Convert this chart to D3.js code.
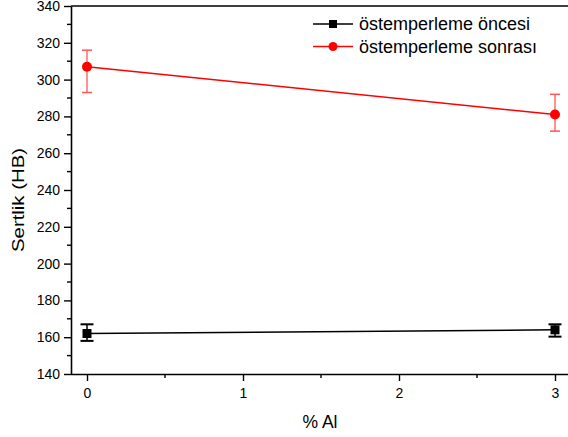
<!DOCTYPE html>
<html><head><meta charset="utf-8">
<script src="https://cdn.jsdelivr.net/npm/d3@7"></script>
<style>body{margin:0;background:#fff}svg{display:block;font-family:"Liberation Sans",Arial,sans-serif}</style>
</head><body><svg id="c" width="568" height="437"></svg>
<script>
const xValues = [0, 3];
const beforeVals = [162, 164];
const beforeLow = [158, 160.3];
const beforeHigh = [167, 167];
const afterVals = [307, 281];
const afterLow = [293, 272];
const afterHigh = [316, 292];
const seriesNames = ["östemperleme öncesi", "östemperleme sonrası"];
const xTicks = [0, 1, 2, 3];
const yTicks = [140, 160, 180, 200, 220, 240, 260, 280, 300, 320, 340];

const svg = d3.select("#c");
const L = 71, T = 6, B = 374;
const x = d3.scaleLinear().domain([0, 3]).range([87, 555]);
const y = d3.scaleLinear().domain([140, 340]).range([B, T]);

// frame top
svg.append("line").attr("x1", L).attr("x2", 568).attr("y1", T).attr("y2", T).attr("stroke", "#000").attr("stroke-width", 1.6);

// y axis
const ya = svg.append("g").attr("transform", `translate(${L},0)`)
  .call(d3.axisLeft(y).tickValues(yTicks).tickSize(7).tickPadding(4).tickSizeOuter(0));
ya.select(".domain").attr("stroke-width", 1.6);
ya.selectAll(".tick line").attr("stroke-width", 1.4);
ya.selectAll("text").attr("font-size", 14).attr("fill", "#000").attr("font-family", "Liberation Sans, Arial");
const yMinor = d3.range(150, 340, 20);
svg.append("g").selectAll("line").data(yMinor).join("line")
  .attr("x1", L - 4).attr("x2", L).attr("y1", d => y(d)).attr("y2", d => y(d)).attr("stroke", "#000").attr("stroke-width", 1.4);

// x axis
const xa = svg.append("g").attr("transform", `translate(0,${B})`)
  .call(d3.axisBottom(x).tickValues(xTicks).tickFormat(d3.format("d")).tickSize(7).tickPadding(7).tickSizeOuter(0));
xa.select(".domain").attr("d", `M${L},0.5H568`).attr("stroke-width", 1.6);
xa.selectAll(".tick line").attr("stroke-width", 1.4);
xa.selectAll("text").attr("font-size", 14).attr("fill", "#000").attr("font-family", "Liberation Sans, Arial");
const xMinor = [0.5, 1.5, 2.5];
svg.append("g").selectAll("line").data(xMinor).join("line")
  .attr("x1", d => x(d)).attr("x2", d => x(d)).attr("y1", B).attr("y2", B + 4).attr("stroke", "#000").attr("stroke-width", 1.4);

// labels
svg.append("text").attr("x", 320).attr("y", 428).attr("text-anchor", "middle").attr("font-size", 17.5).text("% Al");
svg.append("text").attr("transform", `translate(24,200) rotate(-90)`).attr("text-anchor", "middle")
  .attr("font-size", 17).attr("textLength", 104).attr("lengthAdjust", "spacingAndGlyphs").text("Sertlik (HB)");

const line = d3.line().x((d, i) => x(xValues[i])).y(d => y(d));

// black series
svg.append("path").datum(beforeVals).attr("d", line).attr("fill", "none").attr("stroke", "#000").attr("stroke-width", 1.5);
const bg = svg.append("g");
xValues.forEach((xv, i) => {
  const cx = x(xv);
  bg.append("line").attr("x1", cx).attr("x2", cx).attr("y1", y(beforeLow[i])).attr("y2", y(beforeHigh[i])).attr("stroke", "#000").attr("stroke-width", 1.5);
  [beforeLow[i], beforeHigh[i]].forEach(v => bg.append("line").attr("x1", cx - 6.5).attr("x2", cx + 6.5).attr("y1", y(v)).attr("y2", y(v)).attr("stroke", "#000").attr("stroke-width", 2));
  bg.append("rect").attr("x", cx - 4.5).attr("y", y(beforeVals[i]) - 4.5).attr("width", 9).attr("height", 9).attr("fill", "#000");
});

// red series
svg.append("path").datum(afterVals).attr("d", line).attr("fill", "none").attr("stroke", "#f00").attr("stroke-width", 1.5);
const rg = svg.append("g");
xValues.forEach((xv, i) => {
  const cx = x(xv);
  rg.append("line").attr("x1", cx).attr("x2", cx).attr("y1", y(afterLow[i])).attr("y2", y(afterHigh[i])).attr("stroke", "#f55").attr("stroke-width", 1.3);
  [afterLow[i], afterHigh[i]].forEach(v => rg.append("line").attr("x1", cx - 5).attr("x2", cx + 5).attr("y1", y(v)).attr("y2", y(v)).attr("stroke", "#f55").attr("stroke-width", 1.5));
  rg.append("circle").attr("cx", cx).attr("cy", y(afterVals[i])).attr("r", 5).attr("fill", "#f00");
});

// legend
const lg = svg.append("g");
const colors = ["#000", "#f00"];
seriesNames.forEach((n, i) => {
  const yy = 24 + i * 22.5;
  lg.append("line").attr("x1", 313).attr("x2", 353).attr("y1", yy).attr("y2", yy).attr("stroke", colors[i]).attr("stroke-width", 1.5);
  if (i === 0) lg.append("rect").attr("x", 329).attr("y", yy - 4).attr("width", 8).attr("height", 8).attr("fill", "#000");
  else lg.append("circle").attr("cx", 333).attr("cy", yy).attr("r", 4.5).attr("fill", "#f00");
  lg.append("text").attr("x", 359).attr("y", yy + 6).attr("font-size", 18).text(n);
});
</script></body></html>
